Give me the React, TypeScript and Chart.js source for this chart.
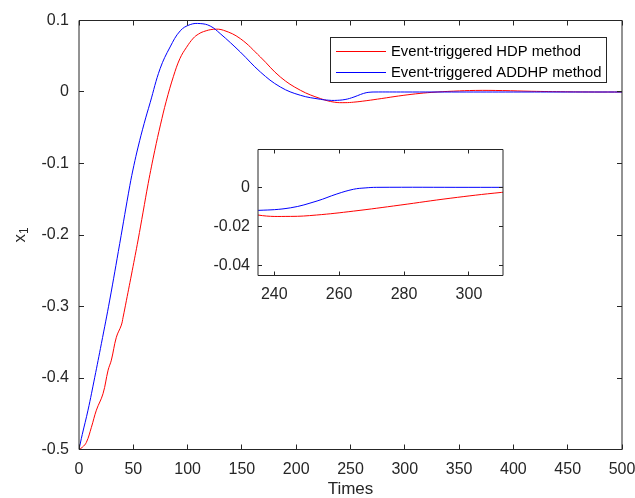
import React, { useEffect, useRef } from 'react';
import { Chart, registerables } from 'chart.js';

Chart.register(...registerables);

// ---------------- data ----------------
const seriesNames = ['Event-triggered HDP method', 'Event-triggered ADDHP method'];
const seriesColors = ['#ff0000', '#0000ff'];

const hdpTime = [0, 3, 6.8, 11.4, 16, 22.1, 26.8, 29.8, 34.4, 39, 40.6, 43.6, 49, 54.4, 59, 63.7, 69.8, 75, 80.3, 87, 93, 99, 105.4, 110, 114.7, 124, 133.1, 148.5, 167, 185.4, 203.9, 222.3, 235, 245, 253, 264.4, 278.8, 294.2, 310, 325, 345, 365, 390, 417, 448, 475, 500];
const hdpX1 = [-0.5, -0.497, -0.49, -0.469, -0.445, -0.422, -0.389, -0.375, -0.343, -0.326, -0.315, -0.292, -0.25, -0.207, -0.168, -0.128, -0.0815, -0.046, -0.013, 0.022, 0.047, 0.0625, 0.0755, 0.081, 0.0845, 0.0877, 0.0863, 0.0747, 0.049, 0.021, 0.0024, -0.0092, -0.0142, -0.0149, -0.0142, -0.0122, -0.0091, -0.0056, -0.0026, -0.0005, 0.0012, 0.0022, 0.002, 0.001, 0.0003, 0, 0];

const addhpTime = [0, 3, 8.3, 14.5, 20.6, 28.3, 37.5, 46.8, 50.5, 54.4, 60, 65.5, 74.7, 83.9, 93.2, 102.4, 111.6, 120.8, 130, 148.5, 167, 185.4, 203.9, 222.3, 230, 235.2, 245, 253.2, 259.3, 264.4, 268, 271.6, 300, 350, 400, 450, 500];
const addhpX1 = [-0.5, -0.479, -0.445, -0.399, -0.352, -0.291, -0.212, -0.131, -0.103, -0.077, -0.044, -0.015, 0.0327, 0.063, 0.0855, 0.0943, 0.0957, 0.0923, 0.0817, 0.056, 0.028, 0.007, -0.0046, -0.0102, -0.0115, -0.0118, -0.0105, -0.007, -0.0034, -0.001, -0.0003, 0, 0, 0, 0, 0, 0];

const mainXTicks = [0, 50, 100, 150, 200, 250, 300, 350, 400, 450, 500];
const mainYTicks = [-0.5, -0.4, -0.3, -0.2, -0.1, 0, 0.1];
const insetXTicks = [240, 260, 280, 300];
const insetYTicks = [-0.04, -0.02, 0];

const xTitle = 'Times';
const yTitleBase = 'x';
const yTitleSub = '1';

// ---------------- styles ----------------
const FONT = '"Liberation Sans", Arial, Helvetica, sans-serif';
const AXIS_COLOR = '#262626';

function makeDatasets() {
  return [
    {
      label: seriesNames[0],
      data: hdpTime.map((t, i) => ({ x: t, y: hdpX1[i] })),
      borderColor: seriesColors[0],
      backgroundColor: seriesColors[0],
      borderWidth: 1,
      pointRadius: 0,
      fill: false,
      tension: 0.4,
      order: 1,
    },
    {
      label: seriesNames[1],
      data: addhpTime.map((t, i) => ({ x: t, y: addhpX1[i] })),
      borderColor: seriesColors[1],
      backgroundColor: seriesColors[1],
      borderWidth: 1,
      pointRadius: 0,
      fill: false,
      tension: 0.4,
      order: 0,
    },
  ];
}

function fmt(v: number) {
  return v === 0 ? '0' : String(v);
}

function zeroPad(s: any) {
  s.paddingLeft = 0;
  s.paddingRight = 0;
  s.paddingTop = 0;
  s.paddingBottom = 0;
}

function framePlugin(tickLen: number, whiteBg: boolean) {
  return {
    id: 'frame',
    beforeDraw(chart: any) {
      if (!whiteBg) return;
      const { ctx, chartArea } = chart;
      ctx.save();
      ctx.fillStyle = '#ffffff';
      ctx.fillRect(chartArea.left, chartArea.top, chartArea.right - chartArea.left, chartArea.bottom - chartArea.top);
      ctx.restore();
    },
    afterDatasetsDraw(chart: any) {
      const { ctx, chartArea } = chart;
      const { left, right, top, bottom } = chartArea;
      const xs = chart.scales.x;
      const ys = chart.scales.y;
      ctx.save();
      ctx.strokeStyle = AXIS_COLOR;
      ctx.lineWidth = 1;
      ctx.beginPath();
      ctx.moveTo(left, top);
      ctx.lineTo(right, top);
      ctx.lineTo(right, bottom);
      ctx.lineTo(left, bottom);
      ctx.closePath();
      ctx.stroke();
      ctx.beginPath();
      xs.ticks.forEach((t: any) => {
        const px = Math.round(xs.getPixelForValue(t.value) - 0.5) + 0.5;
        ctx.moveTo(px, bottom);
        ctx.lineTo(px, bottom - tickLen);
        ctx.moveTo(px, top);
        ctx.lineTo(px, top + tickLen);
      });
      ys.ticks.forEach((t: any) => {
        const py = Math.round(ys.getPixelForValue(t.value) - 0.5) + 0.5;
        ctx.moveTo(left, py);
        ctx.lineTo(left + tickLen, py);
        ctx.moveTo(right, py);
        ctx.lineTo(right - tickLen, py);
      });
      ctx.stroke();
      ctx.restore();
    },
  };
}

const yTitlePlugin = {
  id: 'yTitle',
  afterDraw(chart: any) {
    const { ctx, chartArea } = chart;
    const cy = (chartArea.top + chartArea.bottom) / 2;
    ctx.save();
    ctx.translate(24.5, cy);
    ctx.rotate(-Math.PI / 2);
    ctx.fillStyle = AXIS_COLOR;
    ctx.textBaseline = 'alphabetic';
    ctx.textAlign = 'left';
    ctx.font = `17px ${FONT}`;
    const wb = ctx.measureText(yTitleBase).width;
    ctx.font = `12px ${FONT}`;
    const ws = ctx.measureText(yTitleSub).width;
    const start = -(wb + ws) / 2;
    ctx.font = `17px ${FONT}`;
    ctx.fillText(yTitleBase, start, 0);
    ctx.font = `12px ${FONT}`;
    ctx.fillText(yTitleSub, start + wb, 3);
    ctx.restore();
  },
};

const legendPlugin = {
  id: 'boxLegend',
  afterDraw(chart: any) {
    const { ctx, chartArea } = chart;
    ctx.save();
    ctx.font = `14.8px ${FONT}`;
    const textW = Math.max(...seriesNames.map((n) => ctx.measureText(n).width));
    const lineLen = 50;
    const padL = 5.5;
    const gap = 5;
    const padR = 4.5;
    const boxRight = Math.round(chartArea.right - 16.5) + 0.5;
    const boxTop = Math.round(chartArea.top + 16) + 0.5;
    const boxW = Math.round(padL + lineLen + gap + textW + padR);
    const boxLeft = boxRight - boxW;
    const rowH = 20.5;
    const boxH = 45;
    ctx.fillStyle = '#ffffff';
    ctx.fillRect(boxLeft, boxTop, boxW, boxH);
    ctx.strokeStyle = AXIS_COLOR;
    ctx.lineWidth = 1;
    ctx.strokeRect(boxLeft, boxTop, boxW, boxH);
    seriesNames.forEach((name, i) => {
      const cy = Math.round(boxTop + 13.5 + i * rowH) + 0.5;
      ctx.strokeStyle = seriesColors[i];
      ctx.beginPath();
      ctx.moveTo(boxLeft + padL, cy);
      ctx.lineTo(boxLeft + padL + lineLen, cy);
      ctx.stroke();
      ctx.fillStyle = '#000000';
      ctx.textAlign = 'left';
      ctx.textBaseline = 'middle';
      ctx.fillText(name, boxLeft + padL + lineLen + gap, cy);
    });
    ctx.restore();
  },
};

function axisTicks(padding: number) {
  return {
    font: { family: FONT, size: 16 },
    color: AXIS_COLOR,
    padding,
    maxRotation: 0,
    autoSkip: false,
    callback: (v: number) => fmt(v),
  };
}

const hiddenGrid = { display: false, drawTicks: false, tickLength: 0 };

function mainConfig(): any {
  return {
    type: 'line',
    data: { datasets: makeDatasets() },
    options: {
      animation: false,
      responsive: false,
      devicePixelRatio: 1,
      layout: { padding: { left: 0, top: 20.5, right: 13, bottom: 0 } },
      plugins: { legend: { display: false }, tooltip: { enabled: false } },
      scales: {
        x: {
          type: 'linear',
          min: 0,
          max: 500,
          afterBuildTicks: (s: any) => {
            s.ticks = mainXTicks.map((v) => ({ value: v }));
          },
          afterFit: (s: any) => {
            s.height = 48.5;
            zeroPad(s);
          },
          grid: hiddenGrid,
          border: { display: false },
          ticks: axisTicks(10),
          title: {
            display: true,
            text: xTitle,
            font: { family: FONT, size: 17 },
            color: AXIS_COLOR,
            padding: { top: 0, bottom: -2 },
          },
        },
        y: {
          type: 'linear',
          min: -0.5,
          max: 0.1,
          afterBuildTicks: (s: any) => {
            s.ticks = mainYTicks.map((v) => ({ value: v }));
          },
          afterFit: (s: any) => {
            s.width = 79;
            zeroPad(s);
          },
          grid: hiddenGrid,
          border: { display: false },
          ticks: axisTicks(10),
        },
      },
    },
    plugins: [framePlugin(5, false), yTitlePlugin, legendPlugin],
  };
}

function insetConfig(): any {
  return {
    type: 'line',
    data: { datasets: makeDatasets() },
    options: {
      animation: false,
      responsive: false,
      devicePixelRatio: 1,
      layout: { padding: { left: 0, top: 9.5, right: 17, bottom: 0 } },
      plugins: { legend: { display: false }, tooltip: { enabled: false } },
      scales: {
        x: {
          type: 'linear',
          min: 235,
          max: 310.5,
          afterBuildTicks: (s: any) => {
            s.ticks = insetXTicks.map((v) => ({ value: v }));
          },
          afterFit: (s: any) => {
            s.height = 34.5;
            zeroPad(s);
          },
          grid: hiddenGrid,
          border: { display: false },
          ticks: axisTicks(9.4),
        },
        y: {
          type: 'linear',
          min: -0.0452,
          max: 0.0194,
          afterBuildTicks: (s: any) => {
            s.ticks = insetYTicks.map((v) => ({ value: v }));
          },
          afterFit: (s: any) => {
            s.width = 68;
            zeroPad(s);
          },
          grid: hiddenGrid,
          border: { display: false },
          ticks: axisTicks(8),
        },
      },
    },
    plugins: [framePlugin(4, true)],
  };
}

export default function App() {
  const mainRef = useRef<HTMLCanvasElement>(null);
  const insetRef = useRef<HTMLCanvasElement>(null);

  useEffect(() => {
    const main = new Chart(mainRef.current as HTMLCanvasElement, mainConfig());
    const inset = new Chart(insetRef.current as HTMLCanvasElement, insetConfig());
    return () => {
      main.destroy();
      inset.destroy();
    };
  }, []);

  return (
    <div style={{ position: 'absolute', left: 0, top: 0, width: 635, height: 498, background: '#ffffff' }}>
      <canvas ref={mainRef} width={635} height={498} style={{ position: 'absolute', left: 0, top: 0 }} />
      <canvas ref={insetRef} width={330} height={170} style={{ position: 'absolute', left: 190, top: 140 }} />
    </div>
  );
}
